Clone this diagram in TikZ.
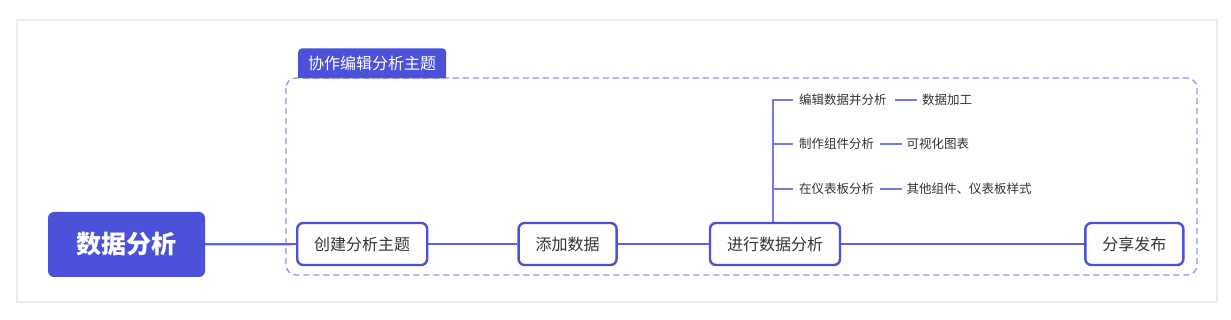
\documentclass[tikz,border=0pt]{standalone}
\usepackage{fontspec}
\setmainfont{Noto Sans CJK SC}
\usetikzlibrary{positioning}
\definecolor{dsBlue}{HTML}{4B52D9}
\definecolor{dsLine}{HTML}{5C63E2}
\definecolor{dsDash}{HTML}{8C91EB}
\definecolor{dsText}{HTML}{333333}
\definecolor{dsCard}{HTML}{EDEDED}

\begin{document}
\begin{tikzpicture}[
  x=1pt, y=-1pt,
  every node/.style={text=dsText},
  root/.style={
    rectangle, rounded corners=6pt, fill=dsBlue,
    text=white, font=\fontsize{25}{29}\selectfont\bfseries,
    minimum width=157pt, minimum height=65pt
  },
  topic/.style={
    rectangle, rounded corners=6pt,
    draw=dsBlue, fill=white, line width=2.4pt,
    font=\fontsize{16}{19}\selectfont,
    inner xsep=17pt, minimum height=42pt
  },
  tab/.style={
    rectangle, rounded corners=4pt, fill=dsBlue,
    text=white, font=\fontsize{16}{19}\selectfont,
    inner xsep=10pt, minimum height=30pt
  },
  leaf/.style={
    inner sep=0pt, font=\fontsize{12.5}{15}\selectfont
  },
  link/.style={draw=dsLine, line width=2.2pt},
  twig/.style={draw=dsLine!85, line width=1.6pt},
  groupbox/.style={draw=dsDash, line width=1.2pt, dashed,
    dash pattern=on 6pt off 4pt, rounded corners=10pt}
]
 \useasboundingbox (0,0) rectangle (1231,320);
 % card
 \fill[white] (0,0) rectangle (1231,320);
 \draw[dsCard, line width=1.2pt, fill=white] (17,20) rectangle (1217,302);

 % group frame and its tab
 \draw[groupbox] (286,78) rectangle (1197,275);
 \node[tab, anchor=south west] (grp) at (298,78.5) {协作编辑分析主题};
 \fill[dsBlue] (grp.south west) rectangle ([yshift=6pt]grp.south east);

 % main row
 \node[root]                      (r)  at (126.5,244.5) {数据分析};
 \node[topic, anchor=west]        (t1) at (296,244) {创建分析主题};
 \node[topic, right=89pt of t1]   (t2) {添加数据};
 \node[topic, right=91pt of t2]   (t3) {进行数据分析};
 \node[topic, right=243pt of t3]  (t4) {分享发布};

 \draw[link] (r) -- (t1); \draw[link] (t1) -- (t2);
 \draw[link] (t2) -- (t3); \draw[link] (t3) -- (t4);

 % branches of t3
 \node[leaf, anchor=west]          (b1) at (799,100) {编辑数据并分析};
 \node[leaf, anchor=west]          (b2) at (799,144) {制作组件分析};
 \node[leaf, anchor=west]          (b3) at (799,189) {在仪表板分析};
 \node[leaf, right=35pt of b1]     (c1) {数据加工};
 \node[leaf, right=32pt of b2]     (c2) {可视化图表};
 \node[leaf, right=32pt of b3]     (c3) {其他组件、仪表板样式};

 \coordinate (fork) at ([xshift=-2pt]t3.north);
 \draw[twig] (fork) |- ([xshift=-6pt]b1.west);
 \draw[twig] (fork) |- ([xshift=-6pt]b2.west);
 \draw[twig] (fork) |- ([xshift=-6pt]b3.west);
 \draw[twig] ([xshift=8pt]b1.east) -- ([xshift=-5pt]c1.west);
 \draw[twig] ([xshift=6pt]b2.east) -- ([xshift=-4pt]c2.west);
 \draw[twig] ([xshift=6pt]b3.east) -- ([xshift=-4pt]c3.west);
\end{tikzpicture}
\end{document}
